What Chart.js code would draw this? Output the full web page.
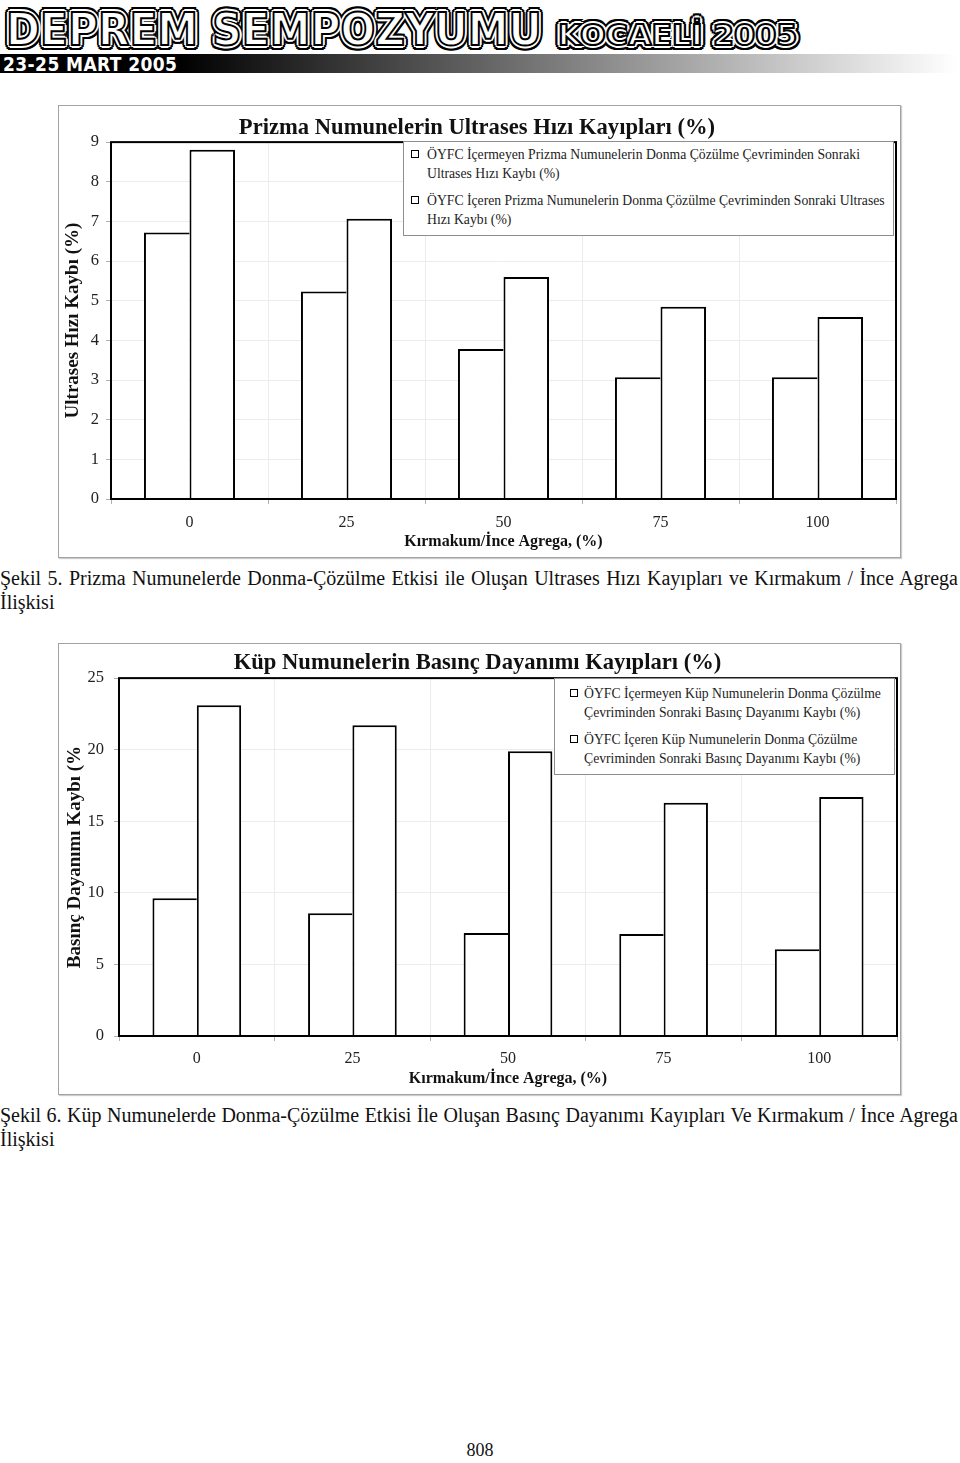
<!DOCTYPE html>
<html lang="tr">
<head>
<meta charset="utf-8">
<title>Deprem Sempozyumu - Şekil 5 / Şekil 6</title>
<script src="https://cdn.jsdelivr.net/npm/chart.js@4.4.1/dist/chart.umd.min.js"></script>
<style>
  body { margin: 0; background: #fff; }
  #page { position: relative; width: 960px; height: 1463px; overflow: hidden; font-family: 'Liberation Serif', serif; color: #111; }
  .logo { position: absolute; white-space: nowrap; font-family: 'DejaVu Sans', sans-serif; font-weight: bold; color: #fff;
    -webkit-text-stroke: 2px #000; transform-origin: 0 0;
    text-shadow: 3px 0 #fff, -3px 0 #fff, 0 3px #fff, 0 -3px #fff, 2px 2px #fff, -2px 2px #fff, 2px -2px #fff, -2px -2px #fff,
      5px 0 #000, -5px 0 #000, 0 5px #000, 0 -5px #000, 3.5px 3.5px #000, -3.5px 3.5px #000, 3.5px -3.5px #000, -3.5px -3.5px #000,
      4.6px 2px #000, -4.6px 2px #000, 4.6px -2px #000, -4.6px -2px #000, 2px 4.6px #000, -2px 4.6px #000, 2px -4.6px #000, -2px -4.6px #000; }
  #dateBar { position: absolute; left: 0; top: 54px; width: 960px; height: 19px;
    background: linear-gradient(to right, #000 0, #000 178px, #fff 957px); }
  #dateBar span { position: absolute; left: 3px; top: -1px; color: #fff; font: bold 19px 'DejaVu Sans Condensed', sans-serif; letter-spacing: 0.4px; }
  .frame { position: absolute; left: 58px; width: 843px; box-sizing: border-box; border: 1px solid #a3a3a3; box-shadow: 1px 1px 1px #ccc; }
  .chartbox { position: absolute; left: 58px; width: 843px; }
  .legend { position: absolute; box-sizing: border-box; background: #fff; border: 1px solid #8e8e8e;
    font-size: 13.7px; line-height: 19px; color: #222; }
  .legend .item { position: relative; white-space: pre; }
  .legend .mark { position: absolute; top: 5px; width: 8px; height: 8px; box-sizing: border-box; border: 1.5px solid #000; background: #fff; }
  .caption { position: absolute; left: 0; width: 958px; font-size: 20px; line-height: 24px; }
  .caption .first { text-align: justify; text-align-last: justify; }
  #pageNo { position: absolute; left: 0; width: 960px; top: 1440px; text-align: center; font-size: 18px; }
</style>
</head>
<body>
<div id="page">
  <div class="logo" style="left:6px; top:4px; font-size:44px; transform: scaleX(0.93);">DEPREM SEMPOZYUMU</div>
  <div class="logo" style="left:558px; top:19px; font-size:28px; transform: scaleX(1.08);">KOCAELİ 2005</div>
  <div id="dateBar"><span>23-25 MART 2005</span></div>

  <div class="frame" style="top:105px; height:453px;"></div>
  <div class="chartbox" style="top:105px; height:453px;">
    <canvas id="prizmaChart"></canvas>
    <div class="legend" id="prizmaLegend" style="left:345px; top:36px; width:491px; height:95px; padding-top:3px;"></div>
  </div>
  <div class="caption" style="top:566px;">
    <div class="first">Şekil 5. Prizma Numunelerde Donma-Çözülme Etkisi ile Oluşan Ultrases Hızı Kayıpları ve Kırmakum / İnce Agrega</div>
    <div>İlişkisi</div>
  </div>

  <div class="frame" style="top:643px; height:452px;"></div>
  <div class="chartbox" style="top:643px; height:452px;">
    <canvas id="kupChart"></canvas>
    <div class="legend" id="kupLegend" style="left:496px; top:35px; width:341px; height:97px; padding-top:5px;"></div>
  </div>
  <div class="caption" style="top:1103px;">
    <div class="first">Şekil 6. Küp Numunelerde Donma-Çözülme Etkisi İle Oluşan Basınç Dayanımı Kayıpları Ve Kırmakum / İnce Agrega</div>
    <div>İlişkisi</div>
  </div>

  <div id="pageNo">808</div>
</div>

<script>
// Kırmakum / ince agrega oranı (%)
const categories = ["0", "25", "50", "75", "100"];

// Şekil 5 - ultrases hızı kaybı (%)
const prizmaNoFiber = [6.72, 5.23, 3.78, 3.07, 3.07];
const prizmaFiber = [8.81, 7.07, 5.60, 4.85, 4.59];
const prizmaYTicks = [0, 1, 2, 3, 4, 5, 6, 7, 8, 9];
const prizmaLabels = [
  "ÖYFC İçermeyen Prizma Numunelerin Donma Çözülme Çevriminden Sonraki\nUltrases Hızı Kaybı (%)",
  "ÖYFC İçeren Prizma Numunelerin Donma Çözülme Çevriminden Sonraki Ultrases\nHızı Kaybı (%)"
];

// Şekil 6 - basınç dayanımı kaybı (%)
const kupNoFiber = [9.63, 8.58, 7.20, 7.13, 6.06];
const kupFiber = [23.1, 21.7, 19.9, 16.3, 16.7];
const kupYTicks = [0, 5, 10, 15, 20, 25];
const kupLabels = [
  "ÖYFC İçermeyen Küp Numunelerin Donma Çözülme\nÇevriminden Sonraki Basınç Dayanımı Kaybı (%)",
  "ÖYFC İçeren Küp Numunelerin Donma Çözülme\nÇevriminden Sonraki Basınç Dayanımı Kaybı (%)"
];

Chart.defaults.font.family = "'Liberation Serif', 'Times New Roman', serif";
Chart.defaults.color = "#222";

// black frame around the plot area
const plotBorder = {
  id: "plotBorder",
  afterDatasetsDraw(chart) {
    const { ctx, chartArea: a } = chart;
    ctx.save();
    ctx.strokeStyle = "#000";
    ctx.lineWidth = 2;
    ctx.strokeRect(a.left, a.top, a.right - a.left, a.bottom - a.top);
    ctx.restore();
  }
};

// HTML legend placed inside the plot
const htmlLegend = {
  id: "htmlLegend",
  afterUpdate(chart, args, opts) {
    const box = document.getElementById(opts.containerID);
    box.innerHTML = "";
    chart.data.datasets.forEach((ds, i) => {
      const item = document.createElement("div");
      item.className = "item";
      item.style.paddingLeft = opts.textLeft + "px";
      if (i > 0) item.style.marginTop = opts.gap + "px";
      const mark = document.createElement("span");
      mark.className = "mark";
      mark.style.left = opts.markLeft + "px";
      item.appendChild(mark);
      item.appendChild(document.createTextNode(ds.label));
      box.appendChild(item);
    });
  }
};

function buildChart(canvasId, cfg) {
  const ctx = document.getElementById(canvasId);
  return new Chart(ctx, {
    type: "bar",
    data: {
      labels: categories,
      datasets: [
        {
          label: cfg.labels[0],
          data: cfg.series[0],
          backgroundColor: "#fff",
          borderColor: "#000",
          borderWidth: { top: 2, left: 2, right: 0, bottom: 0 }
        },
        {
          label: cfg.labels[1],
          data: cfg.series[1],
          backgroundColor: "#fff",
          borderColor: "#000",
          borderWidth: { top: 2, left: 2, right: 2, bottom: 0 }
        }
      ]
    },
    options: {
      responsive: true,
      maintainAspectRatio: false,
      animation: false,
      devicePixelRatio: 1,
      datasets: { bar: { categoryPercentage: cfg.catPct, barPercentage: 1.0 } },
      layout: { padding: { left: 0, right: cfg.padRight, top: 0, bottom: 0 } },
      plugins: {
        legend: { display: false },
        tooltip: { enabled: false },
        title: {
          display: true,
          text: cfg.title,
          color: "#111",
          font: { size: 22.6, weight: "bold" },
          padding: cfg.titlePad
        },
        htmlLegend: cfg.legend
      },
      scales: {
        x: {
          grid: { color: "#ececec", tickColor: "#b0b0b0", tickLength: 5, offset: true },
          border: { display: false },
          ticks: { font: { size: 16 }, color: "#222", padding: cfg.xTickPad },
          title: {
            display: true,
            text: "Kırmakum/İnce Agrega, (%)",
            color: "#111",
            font: { size: 16, weight: "bold" },
            padding: { top: 0, bottom: 7 }
          },
          afterFit: (scale) => { scale.height = cfg.xHeight; }
        },
        y: {
          min: cfg.yTicks[0],
          max: cfg.yTicks[cfg.yTicks.length - 1],
          grid: { color: "#ececec", tickColor: "#b0b0b0", tickLength: 5 },
          border: { display: false },
          ticks: { font: { size: 16.5 }, color: "#222", padding: cfg.yTickPad },
          afterBuildTicks: (scale) => { scale.ticks = cfg.yTicks.map(v => ({ value: v })); },
          title: {
            display: true,
            text: cfg.yTitle,
            color: "#111",
            font: { size: 19, weight: "bold" },
            padding: { top: cfg.yTitlePad, bottom: 0 }
          },
          afterFit: (scale) => { scale.width = cfg.yWidth; }
        }
      }
    },
    plugins: [plotBorder, htmlLegend]
  });
}

buildChart("prizmaChart", {
  title: "Prizma Numunelerin Ultrases Hızı Kayıpları (%)",
  yTitle: "Ultrases Hızı Kaybı (%)",
  labels: prizmaLabels,
  series: [prizmaNoFiber, prizmaFiber],
  yTicks: prizmaYTicks,
  catPct: 0.58,
  padRight: 5,
  titlePad: { top: 10, bottom: 0 },
  xHeight: 59,
  xTickPad: 9,
  yWidth: 53,
  yTickPad: 7,
  yTitlePad: 4,
  legend: { containerID: "prizmaLegend", markLeft: 7, textLeft: 23, gap: 8 }
});

buildChart("kupChart", {
  title: "Küp Numunelerin Basınç Dayanımı Kayıpları (%)",
  yTitle: "Basınç Dayanımı Kaybı (%",
  labels: kupLabels,
  series: [kupNoFiber, kupFiber],
  yTicks: kupYTicks,
  catPct: 0.57,
  padRight: 4,
  titlePad: { top: 7, bottom: 1 },
  xHeight: 59,
  xTickPad: 8,
  yWidth: 61,
  yTickPad: 10,
  yTitlePad: 6,
  legend: { containerID: "kupLegend", markLeft: 15, textLeft: 29, gap: 8 }
});
</script>
</body>
</html>
